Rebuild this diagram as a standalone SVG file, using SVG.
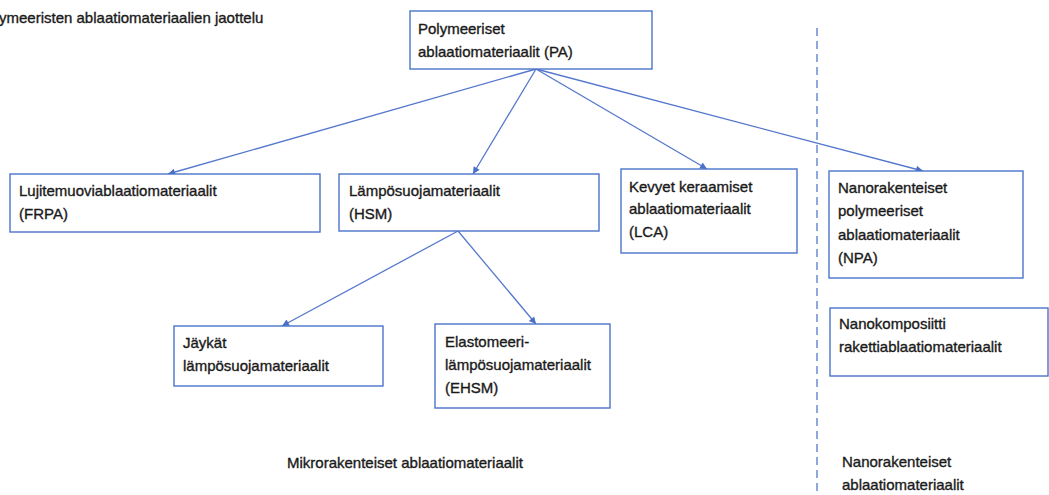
<svg xmlns="http://www.w3.org/2000/svg" width="1049" height="495" viewBox="0 0 1049 495">
<style>
.box{fill:#fff;stroke:#4a74c9;stroke-width:1.4}
.t{font-family:"Liberation Sans",Arial,sans-serif;font-size:15px;fill:#1a1a1a;stroke:#1a1a1a;stroke-width:0.35}
.c{stroke:#5577cc;stroke-width:1.3;fill:none;marker-end:url(#ah)}
</style>
<defs>
<marker id="ah" viewBox="0 0 10 10" refX="10" refY="5" markerWidth="9" markerHeight="7" markerUnits="userSpaceOnUse" orient="auto">
<path d="M0,0 L10,5 L0,10 Z" fill="#4a6fc7"/>
</marker>
</defs>
<rect width="1049" height="495" fill="#fff"/>
<text class="t" x="-1" y="23">ymeeristen ablaatiomateriaalien jaottelu</text>
<line x1="817" y1="28" x2="817" y2="495" stroke="#8ea8dc" stroke-width="2" stroke-dasharray="8,5"/>
<g id="connectors">
<line class="c" x1="536" y1="69" x2="168" y2="174"/>
<line class="c" x1="536" y1="69" x2="473" y2="174"/>
<line class="c" x1="536" y1="69" x2="707" y2="169"/>
<line class="c" x1="536" y1="69" x2="923" y2="171"/>
<line class="c" x1="458" y1="231" x2="282" y2="326"/>
<line class="c" x1="458" y1="231" x2="536" y2="324"/>
</g>
<g id="pa"><rect class="box" x="410" y="11" width="242" height="58"/>
<text class="t" x="418" y="34">Polymeeriset</text><text class="t" x="418" y="57">ablaatiomateriaalit (PA)</text></g>
<g id="frpa"><rect class="box" x="10" y="174" width="310" height="58"/>
<text class="t" x="19" y="196">Lujitemuoviablaatiomateriaalit</text><text class="t" x="19" y="219">(FRPA)</text></g>
<g id="hsm"><rect class="box" x="339" y="174" width="260" height="57"/>
<text class="t" x="349" y="196">Lämpösuojamateriaalit</text><text class="t" x="349" y="219">(HSM)</text></g>
<g id="lca"><rect class="box" x="621" y="169" width="176" height="84"/>
<text class="t" x="629" y="192">Kevyet keraamiset</text><text class="t" x="629" y="214">ablaatiomateriaalit</text><text class="t" x="629" y="237">(LCA)</text></g>
<g id="npa"><rect class="box" x="829" y="171" width="194" height="107"/>
<text class="t" x="838" y="193">Nanorakenteiset</text><text class="t" x="838" y="216">polymeeriset</text><text class="t" x="838" y="240">ablaatiomateriaalit</text><text class="t" x="838" y="263">(NPA)</text></g>
<g id="nanokomposiitti"><rect class="box" x="830" y="308" width="218" height="68"/>
<text class="t" x="839" y="329">Nanokomposiitti</text><text class="t" x="839" y="352">rakettiablaatiomateriaalit</text></g>
<g id="jaykat"><rect class="box" x="174" y="326" width="209" height="60"/>
<text class="t" x="183" y="348">Jäykät</text><text class="t" x="183" y="371">lämpösuojamateriaalit</text></g>
<g id="ehsm"><rect class="box" x="435" y="324" width="175" height="84"/>
<text class="t" x="445" y="347">Elastomeeri-</text><text class="t" x="445" y="370">lämpösuojamateriaalit</text><text class="t" x="445" y="393">(EHSM)</text></g>
<text class="t" x="287" y="468">Mikrorakenteiset ablaatiomateriaalit</text>
<text class="t" x="842" y="467">Nanorakenteiset</text>
<text class="t" x="842" y="490">ablaatiomateriaalit</text>
</svg>
